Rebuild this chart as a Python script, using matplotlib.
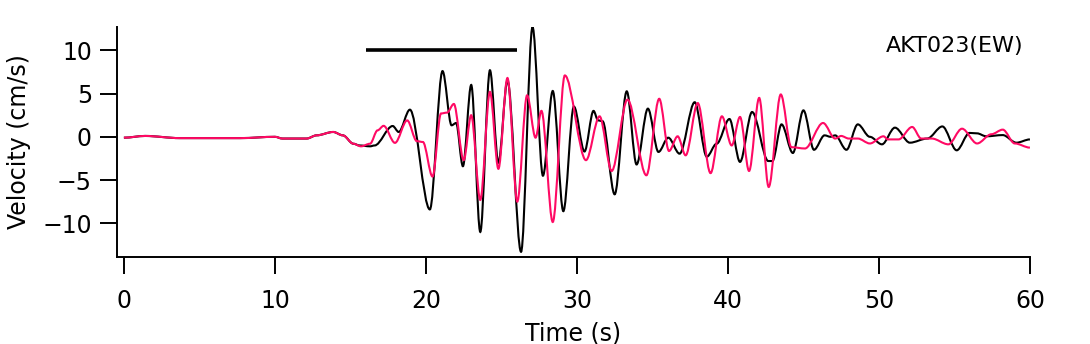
import matplotlib
matplotlib.use('Agg')
import matplotlib.pyplot as plt
from matplotlib.path import Path
from matplotlib.patches import PathPatch

# velocity traces (time in s, velocity in cm/s)
t_black = [0, 1.4, 3.7, 7.7, 10.0, 10.5, 12.1, 12.76, 13.86, 14.5, 15.2, 15.6, 16.3, 16.6,
           17.8, 18.2, 18.94, 20.26, 21.1, 21.7, 22.0, 22.45, 23.0, 23.6, 24.24, 24.8, 25.4,
           26.3, 27.06, 27.75, 28.4, 29.1, 29.8, 30.5, 31.1, 31.4, 31.7, 32.5, 33.3, 33.95,
           34.7, 35.4, 36.05, 36.8, 37.8, 38.6, 39.25, 40.1, 40.8, 41.6, 42.67, 42.95, 43.55,
           44.3, 45.0, 45.7, 46.4, 46.8, 47.1, 47.85, 48.6, 49.4, 50.2, 51.06, 52.05, 53.2,
           54.2, 55.15, 56.0, 56.5, 57.1, 58.2, 59.1, 60.0]
v_black = [-0.1, 0.1, -0.15, -0.15, 0.0, -0.2, -0.2, 0.17, 0.56, 0.17, -0.8, -1.0, -1.1, -1.0,
           1.25, 0.56, 3.14, -8.4, 7.6, 1.33, 1.6, -3.4, 6.0, -11.0, 7.7, -3.0, 6.5,
           -13.3, 12.7, -4.5, 5.3, -8.6, 3.5, -1.7, 3.0, 1.9, 1.8, -6.65, 5.26, -3.2,
           3.26, -1.75, -0.1, -1.95, 4.0, -2.3, -0.8, 2.06, -2.9, 2.87, -2.8, -2.8, 1.44,
           -1.87, 3.06, -1.5, 0.17, 0.0, 0.17, -1.5, 1.44, 0.0, -0.87, 1.06, -0.68, -0.2,
           1.2, -1.56, 0.45, 0.4, 0.06, 0.2, -0.68, -0.3]

t_pink = [0, 1.4, 3.7, 7.7, 10.0, 10.5, 12.1, 12.76, 13.86, 14.5, 15.2, 15.7, 16.3, 16.8,
          17.2, 17.95, 18.76, 19.4, 19.8, 20.44, 21.0, 21.4, 21.85, 22.5, 23.0, 23.6, 24.24,
          24.8, 25.4, 26.05, 26.7, 27.26, 27.65, 28.4, 29.2, 30.6, 31.5, 32.3, 33.35, 34.6,
          35.45, 36.1, 36.67, 37.2, 38.0, 38.85, 39.6, 40.25, 40.8, 41.4, 42.07, 42.7, 43.5,
          44.2, 45.1, 46.3, 47.1, 47.5, 48.0, 48.6, 49.4, 50.3, 50.6, 51.3, 52.2, 52.8,
          53.5, 54.6, 55.5, 56.5, 57.45, 58.2, 59.0, 60.0]
v_pink = [-0.1, 0.1, -0.15, -0.15, 0.0, -0.2, -0.2, 0.17, 0.56, 0.17, -0.8, -1.1, -0.8, 0.75,
          1.27, -0.7, 1.9, -0.5, -0.6, -4.6, 2.7, 2.8, 3.8, -2.7, 2.5, -7.3, 5.2,
          -3.7, 6.8, -7.5, 4.8, -0.1, 3.0, -9.85, 7.1, -2.7, 2.37, -3.95, 4.3, -4.45,
          4.4, -1.64, 0.06, -2.14, 3.9, -4.2, 2.37, -1.0, 2.3, -3.95, 4.5, -5.8, 4.9,
          -1.2, -1.35, 1.6, -0.2, 0.1, -0.2, -0.2, -0.77, 0.06, -0.3, -0.3, 1.14, -0.2,
          -0.2, -0.87, 0.94, -0.77, 0.3, 0.83, -0.77, -1.25]

# time window marker and station name
window = [16.0, 26.0]
window_level = 10.0
station = 'AKT023(EW)'

x_ticks = [0, 10, 20, 30, 40, 50, 60]
y_ticks = [-10, -5, 0, 5, 10]


def smooth_trace(ax, t, v, color):
    # draw the read-off extrema joined by bezier segments (flat at each extremum)
    verts = [(t[0], v[0])]
    codes = [Path.MOVETO]
    for i in range(1, len(t)):
        dt = (t[i] - t[i - 1]) / 3
        verts += [(t[i - 1] + dt, v[i - 1]), (t[i] - dt, v[i]), (t[i], v[i])]
        codes += [Path.CURVE4] * 3
    ax.add_patch(PathPatch(Path(verts, codes), facecolor='none', edgecolor=color, lw=1.5))


plt.rcParams['font.family'] = ['Liberation Sans Narrow', 'DejaVu Sans']
plt.rcParams['font.size'] = 17

fig = plt.figure(figsize=(10.9, 3.44), dpi=100)
ax = fig.add_axes([0.1073, 0.2529, 0.8376, 0.6686])

smooth_trace(ax, t_black, v_black, 'black')
smooth_trace(ax, t_pink, v_pink, '#ff0a64')
ax.plot(window, [window_level, window_level], color='black', lw=2.6, solid_capstyle='butt')
ax.text(55.0, 10.5, station, fontsize=16, va='center', ha='center')

ax.set_xlim(-0.46, 60)
ax.set_ylim(-13.9, 12.7)
ax.set_xticks(x_ticks)
ax.set_yticks(y_ticks)
ax.set_yticklabels(['\u221210', '\u22125', '0', '5', '10'])
ax.spines['top'].set_visible(False)
ax.spines['right'].set_visible(False)
ax.spines['left'].set_linewidth(1.4)
ax.spines['bottom'].set_linewidth(1.4)
ax.tick_params(length=12, width=1.4, pad=6)
ax.tick_params(axis='x', pad=11)

ax.set_xlabel('Time (s)', labelpad=6)
ax.set_ylabel('Velocity (cm/s)', labelpad=8)

fig.savefig('out.png', dpi=100)
